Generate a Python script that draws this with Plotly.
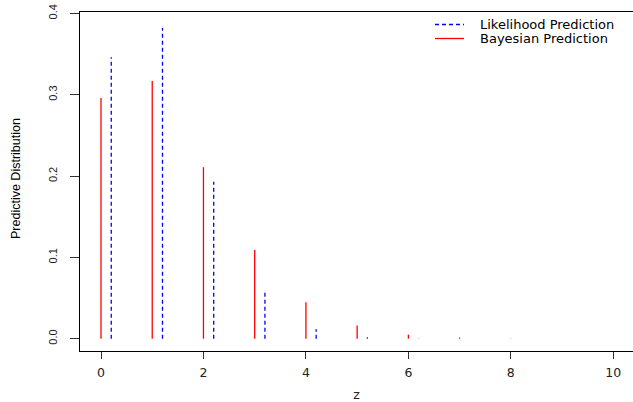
import plotly.graph_objects as go

# ---- data ----
z = [0, 1, 2, 3, 4, 5, 6, 7, 8, 9, 10]
bayesian = [0.296, 0.317, 0.211, 0.109, 0.045, 0.0164, 0.005, 0.0015, 0.0004, 0.00012, 0.00004]
likelihood = [0.346, 0.382, 0.193, 0.057, 0.0115, 0.0017, 0.0003, 0.00003, 0.0, 0.0, 0.0]
x_ticks = [0, 2, 4, 6, 8, 10]
y_ticks = [0.0, 0.1, 0.2, 0.3, 0.4]
series_names = ["Likelihood Prediction", "Bayesian Prediction"]
y_title = "Predictive Distribution"
x_title = "z"

OFFSET = 0.2  # likelihood spikes drawn slightly to the right


def spikes(xs, ys, dx=0.0):
    sx, sy = [], []
    for a, b in zip(xs, ys):
        sx += [a + dx, a + dx, None]
        sy += [0, b, None]
    return sx, sy


W, H = 633, 402
ML, MR, MT, MB = 80, 0, 12, 51

fig = go.Figure()
bx, by = spikes(z, bayesian)
lx, ly = spikes(z, likelihood, OFFSET)
fig.add_trace(go.Scatter(x=bx, y=by, mode="lines", name=series_names[1],
                         line=dict(color="#FF0000", width=1.3), showlegend=False))
fig.add_trace(go.Scatter(x=lx, y=ly, mode="lines", name=series_names[0],
                         line=dict(color="#0000FF", width=1.3, dash="4px,3px"), showlegend=False))

# manual legend (R style, no box); positions given in window pixels
pw, ph = W - ML - MR, H - MT - MB


def px(xp):
    return (xp - ML) / pw


def py(yp):
    return (H - MB - yp) / ph


legend_rows = [(series_names[0], "#0000FF", "4px,3px", 24.5), (series_names[1], "#FF0000", "solid", 38.5)]
for name, col, dash, yy in legend_rows:
    fig.add_shape(type="line", xref="paper", yref="paper", x0=px(435), x1=px(464), y0=py(yy), y1=py(yy),
                  line=dict(color=col, width=1.3, dash=dash))
    fig.add_annotation(text=name, xref="paper", yref="paper", x=px(478), y=py(yy), xanchor="left",
                       yanchor="middle", showarrow=False,
                       font=dict(family="DejaVu Sans", size=13, color="#000000"))

# y-axis title placed as in the reference
fig.add_annotation(text=y_title, xref="paper", yref="paper", x=px(16), y=py(179), xanchor="center",
                   yanchor="middle", textangle=-90, showarrow=False,
                   font=dict(family="Liberation Sans", size=12.5, color="#000000"))

fig.update_layout(
    width=W, height=H,
    margin=dict(l=ML, r=MR, t=MT, b=MB, pad=0, autoexpand=False),
    paper_bgcolor="white", plot_bgcolor="white",
    showlegend=False,
)
fig.update_xaxes(
    range=[-0.41, 10.385], tickvals=x_ticks, ticktext=[str(v) for v in x_ticks],
    showgrid=False, zeroline=False, showline=True, linecolor="black", linewidth=1, mirror=True,
    ticks="outside", ticklen=6.5, tickcolor="#333333", tickwidth=1, automargin=False,
    tickfont=dict(family="DejaVu Sans", size=12.5, color="#222222"),
    ticklabelstandoff=3,
    title=dict(text=x_title, font=dict(family="DejaVu Sans", size=12.5, color="#222222"), standoff=15),
)
fig.update_yaxes(
    range=[-0.0151, 0.4018], tickvals=y_ticks, ticktext=["%.1f" % v for v in y_ticks],
    showgrid=False, zeroline=False, showline=True, linecolor="black", linewidth=1, mirror=False,
    ticks="outside", ticklen=9.5, tickcolor="#333333", tickwidth=1, tickangle=-90, automargin=False,
    tickfont=dict(family="Liberation Sans", size=11, color="#222222"),
    ticklabelstandoff=8, ticklabeloverflow="allow",
)

# remove the default page margin so the figure fills the window exactly
fig.write_html("out.html", config={"displayModeBar": False},
               post_script="document.body.style.margin='0';document.body.style.overflow='hidden';")
